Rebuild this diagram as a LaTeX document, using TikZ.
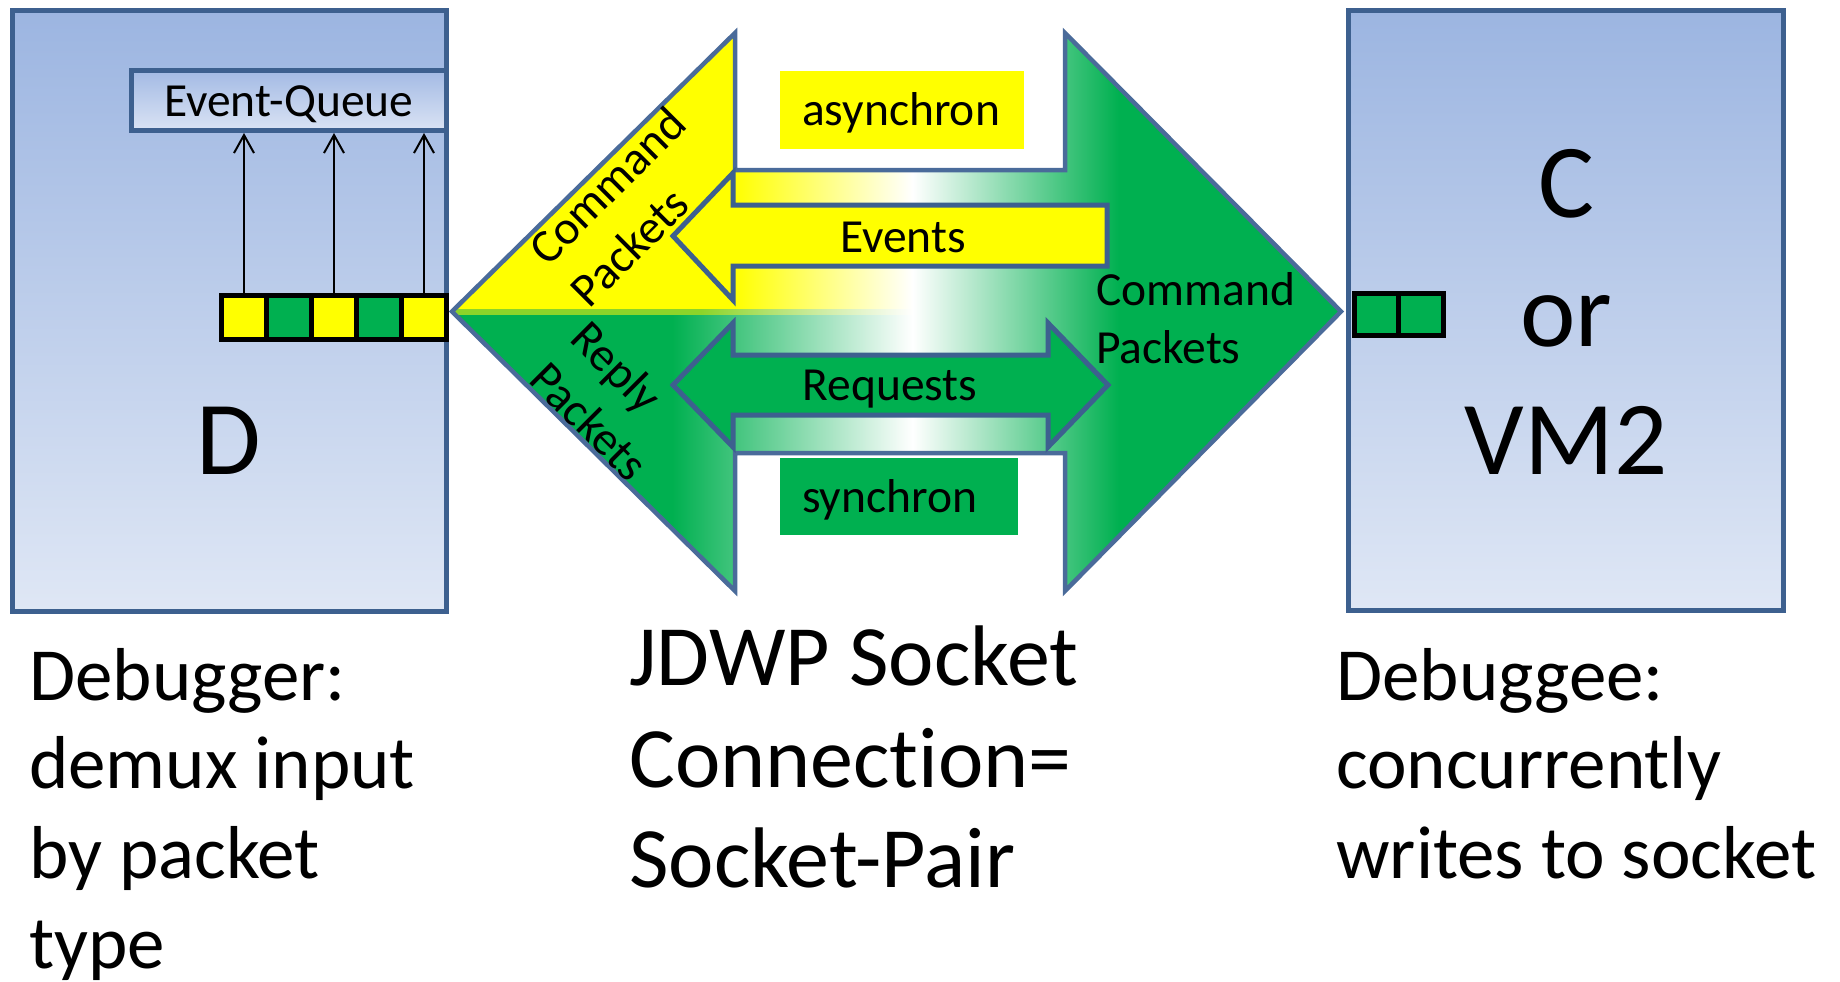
\documentclass[tikz,border=0pt]{standalone}
\usepackage{fontspec}
\setmainfont{Carlito}[Ligatures={NoCommon}]
\usetikzlibrary{arrows.meta}

\definecolor{pktgreen}{HTML}{00B050}
\definecolor{pktyellow}{HTML}{FFFF00}
\definecolor{frameblue}{HTML}{3D608F}
\definecolor{edgeblue}{HTML}{4A6B9A}
\definecolor{boxtop}{HTML}{9CB5E1}
\definecolor{boxbot}{HTML}{DFE7F5}
\definecolor{eqtop}{HTML}{A3BAE4}
\definecolor{eqbot}{HTML}{DAE3F4}
\definecolor{seamlime}{HTML}{8CD42A}

% horizontal fades of the socket-pair shape (25bp..75bp = shape width)
\pgfdeclarehorizontalshading{upperfade}{100bp}{color(0bp)=(pktyellow); color(40.9bp)=(pktyellow); color(50.9bp)=(white); color(62.5bp)=(pktgreen); color(100bp)=(pktgreen)}
\pgfdeclarehorizontalshading{lowerfade}{100bp}{color(0bp)=(pktgreen); color(37.4bp)=(pktgreen); color(50.9bp)=(white); color(62.5bp)=(pktgreen); color(100bp)=(pktgreen)}
\pgfdeclarehorizontalshading{seamfade}{100bp}{color(0bp)=(seamlime); color(39bp)=(seamlime); color(50.9bp)=(white); color(62.5bp)=(pktgreen); color(100bp)=(pktgreen)}

\newcommand\fntMid{\fontsize{47.5}{58}\selectfont}
\newcommand\fntBig{\fontsize{105}{128.5}\selectfont}
\newcommand\fntSide{\fontsize{75}{89}\selectfont}
\newcommand\fntConn{\fontsize{86}{101}\selectfont}

\tikzset{
  host/.style={draw=frameblue, line width=5pt, top color=boxtop, bottom color=boxbot,
    rectangle, inner sep=0pt},
  eqbox/.style={draw=frameblue, line width=5pt, top color=eqtop, bottom color=eqbot,
    rectangle, inner sep=0pt, font=\fntMid},
  cell/.style={draw=black, line width=5pt, rectangle, inner sep=0pt},
  feed/.style={line width=2pt, -{Straight Barb[length=18pt,width=20pt]}},
  edge/.style={draw=edgeblue, line width=4.5pt, line join=miter},
  flow/.style={draw=frameblue, line width=5pt, line join=miter},
  lbl/.style={inner sep=0pt, font=\fntMid},
  tagbox/.style={inner xsep=22pt, inner ysep=0pt, align=left, font=\fntMid,
    text depth=0pt, anchor=north west},
  side/.style={inner sep=0pt, font=\fntSide, anchor=base west},
  conn/.style={inner sep=0pt, font=\fntConn, anchor=base west},
  big/.style={inner sep=0pt, font=\fntBig, anchor=base},
}

\begin{document}
\begin{tikzpicture}[x=1pt, y=-1pt]
\useasboundingbox[fill=white] (0,0) rectangle (1840,982);

% debugger and debuggee hosts
\node[host, minimum width=434pt, minimum height=600.5pt] (dbg) at (229,310.75) {};
\node[host, minimum width=434.5pt, minimum height=599.5pt] (dbgee) at (1565.75,310.75) {};

% event queue with the demultiplexed packet buffer
\node[eqbox, minimum width=314.5pt, minimum height=60pt, text height=32pt, text depth=0pt]
  (eq) at (288.75,100.5) {Event-Queue};
\node[cell, fill=pktyellow, minimum width=45pt, minimum height=44pt] (q1) at (244,317.8) {};
\node[cell, fill=pktgreen,  minimum width=45pt, minimum height=44pt] (q2) at (289,317.8) {};
\node[cell, fill=pktyellow, minimum width=45pt, minimum height=44pt] (q3) at (334,317.8) {};
\node[cell, fill=pktgreen,  minimum width=45pt, minimum height=44pt] (q4) at (379,317.8) {};
\node[cell, fill=pktyellow, minimum width=45pt, minimum height=44pt] (q5) at (424,317.8) {};
\foreach \c in {q1,q3,q5}
  \draw[feed] (\c.north) -- (\c.north |- eq.south);

% debuggee write buffer
\node[cell, fill=pktgreen, minimum width=44.25pt, minimum height=42.5pt] (r1) at (1376.6,314.3) {};
\node[cell, fill=pktgreen, minimum width=44.25pt, minimum height=42.5pt] (r2) at (1420.9,314.3) {};

% socket-pair double arrow
\coordinate (tipL) at (452,311.5);
\coordinate (ltop) at (735,33);
\coordinate (lsht) at (735,170);
\coordinate (rsht) at (1065,170);
\coordinate (rtop) at (1065,33);
\coordinate (tipR) at (1341,311.5);
\coordinate (rbot) at (1065,591);
\coordinate (rshb) at (1065,453);
\coordinate (lshb) at (735,453);
\coordinate (lbot) at (735,591);
\begin{scope}
  \clip (tipL) -- (ltop) -- (lsht) -- (rsht) -- (rtop) -- (tipR) -- (rbot)
        -- (rshb) -- (lshb) -- (lbot) -- cycle;
  \shade[shading=upperfade] (452,20) rectangle (1341,311.5);
  \shade[shading=lowerfade] (452,311.5) rectangle (1341,600);
  \shade[shading=seamfade] (452,309) rectangle (1341,314);
\end{scope}
\draw[edge] (tipL) -- (ltop) -- (lsht) -- (rsht) -- (rtop) -- (tipR) -- (rbot)
        -- (rshb) -- (lshb) -- (lbot) -- cycle;

% events (debuggee to debugger) and requests (both ways)
\draw[flow, fill=pktyellow] (673,236) -- (733,173) -- (733,205) -- (1107,205)
  -- (1107,266) -- (733,266) -- (733,300) -- cycle;
\draw[flow, fill=pktgreen] (673,385) -- (733,323) -- (733,355) -- (1048,355)
  -- (1048,323) -- (1108,385) -- (1048,447) -- (1048,415) -- (733,415)
  -- (733,447) -- cycle;
\node[lbl, anchor=base] (evtxt) at (903,252) {Events};
\node[lbl, anchor=base] (reqtxt) at (890,400) {Requests};

% mode tags
\node[tagbox, fill=pktyellow, text width=200pt, minimum height=78pt, text height=30pt]
  (async) at (780,71) {asynchron};
\node[tagbox, fill=pktgreen, text width=194pt, minimum height=77pt, text height=31pt]
  (sync) at (780,458) {synchron};

% packet kinds
\node[lbl, rotate=45, anchor=base west] (cmdA) at (548,267.7) {Command};
\node[lbl, rotate=45, anchor=base west] (cmdB) at (589.7,309.4) {Packets};
\node[lbl, rotate=-45, anchor=base west] (repA) at (567.9,340.5) {Reply};
\node[lbl, rotate=-45, anchor=base west] (repB) at (526.9,381.5) {Packets};
\node[lbl, anchor=base west] (cmdC) at (1096,305) {Command};
\node[lbl, anchor=base west] (cmdD) at (1096,363) {Packets};

% host names
\node[big] (dname) at (229,474) {D};
\node[big] (cname) at (1566,217) {C};
\node[big] (orname) at (1566,346) {or};
\node[big] (vmname) at (1566,474) {VM2};

% captions
\node[side] (deb1) at (29,700) {Debugger:};
\node[side] (deb2) at (29,788) {demux input};
\node[side] (deb3) at (29,878) {by packet};
\node[side] (deb4) at (29,968) {type};
\node[conn] (con1) at (629,685) {JDWP Socket};
\node[conn] (con2) at (629,787) {Connection=};
\node[conn] (con3) at (629,887) {Socket-Pair};
\node[side] (dee1) at (1336,700) {Debuggee:};
\node[side] (dee2) at (1336,788) {concurrently};
\node[side] (dee3) at (1336,878) {writes to socket};
\end{tikzpicture}
\end{document}
